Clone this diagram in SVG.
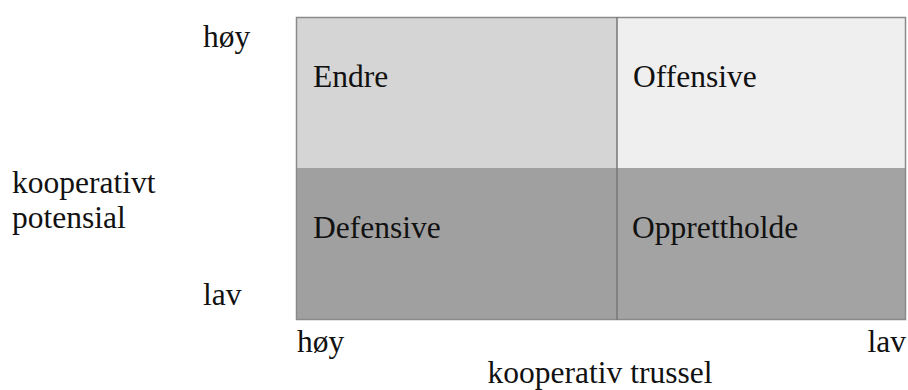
<svg xmlns="http://www.w3.org/2000/svg" width="908" height="390" viewBox="0 0 908 390">
<style>
text{font-family:"Liberation Serif","Times New Roman",serif;font-size:31.5px;fill:#111}
.q{stroke:none}
</style>
<rect x="0" y="0" width="908" height="390" fill="#ffffff"/>
<g id="q-endre"><rect class="q" x="296" y="17" width="321" height="151" fill="#d5d5d5"/><text x="313" y="87">Endre</text></g>
<g id="q-offensive"><rect class="q" x="617" y="17" width="289" height="151" fill="#efefef"/><text x="633" y="87">Offensive</text></g>
<g id="q-defensive"><rect class="q" x="296" y="168" width="321" height="152" fill="#a0a0a0"/><text x="313" y="238">Defensive</text></g>
<g id="q-opprettholde"><rect class="q" x="617" y="168" width="289" height="152" fill="#a3a3a3"/><text x="632" y="238">Opprettholde</text></g>
<g id="lines" fill="none">
<rect x="296.5" y="17.5" width="609" height="302" stroke="#8a8a8a" stroke-width="1.5"/>
<line x1="617" y1="17" x2="617" y2="320" stroke="#777" stroke-width="1.5"/>
</g>
<g id="labels">
<text x="203" y="47">høy</text>
<text x="203" y="305">lav</text>
<text x="12" y="193">kooperativt</text>
<text x="12" y="228">potensial</text>
<text x="297" y="352">høy</text>
<text x="906" y="352" text-anchor="end">lav</text>
<text x="600" y="383" text-anchor="middle">kooperativ trussel</text>
</g>
</svg>
